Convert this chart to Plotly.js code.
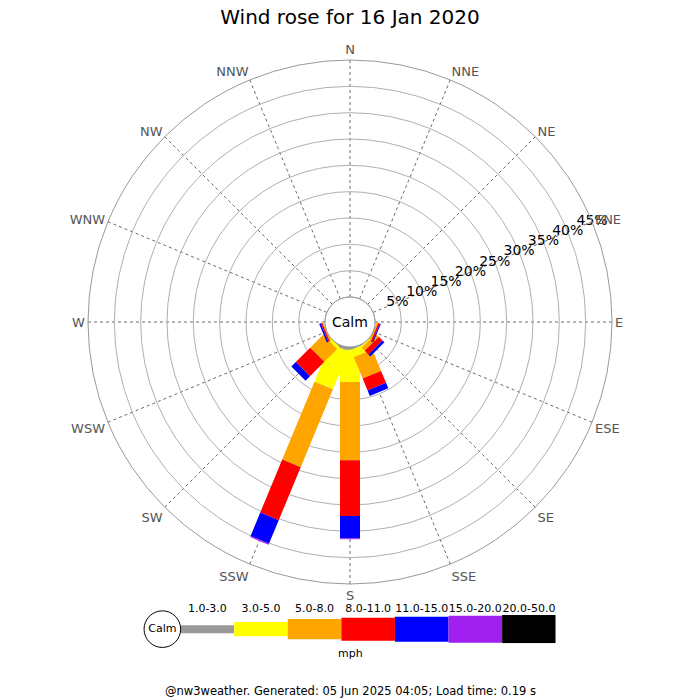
<!DOCTYPE html>
<html><head><meta charset="utf-8">
<script src="https://cdn.plot.ly/plotly-3.0.1.min.js"></script>
<style>html,body{margin:0;padding:0;background:#fff}</style>
</head><body><div id="chart" style="width:700px;height:700px"></div>
<script>
// ---- data ----
const directions = ['N','NNE','NE','ENE','E','ESE','SE','SSE','S','SSW','SW','WSW','W','WNW','NW','NNW'];
const dirAngles  = [0,22.5,45,67.5,90,112.5,135,157.5,180,202.5,225,247.5,270,292.5,315,337.5];
const speedBins  = ['1.0-3.0','3.0-5.0','5.0-8.0','8.0-11.0','11.0-15.0','15.0-20.0','20.0-50.0'];
//                      N  NNE NE ENE E  ESE  SE   SSE   S     SSW   SW    WSW  W  WNW NW NNW
const freq1to3   = [0, 0, 0, 0, 0, 0,   0,   0.2,  0.5,  0.5,  0,    0,   0, 0, 0, 0];
const freq3to5   = [0, 0, 0, 0, 0, 0,   0.3, 1.5,  6.15, 7.8,  0.6,  0,   0, 0, 0, 0];
const freq5to8   = [0, 0, 0, 0, 0, 0.3, 0.8, 4.4,  14.85,16.0, 3.45, 0.2, 0, 0, 0, 0];
const freq8to11  = [0, 0, 0, 0, 0, 0.3, 1.0, 2.45, 10.6, 10.9, 3.85, 0.3, 0, 0, 0, 0];
const freq11to15 = [0, 0, 0, 0, 0, 0.2, 0.5, 1.1,  4.2,  4.8,  1.2,  0.3, 0, 0, 0, 0];
const freq15to20 = [0, 0, 0, 0, 0, 0,   0,   0,    0.2,  0.25, 0,    0,   0, 0, 0, 0];
const freq20to50 = [0, 0, 0, 0, 0, 0,   0,   0,    0,    0,    0,    0,   0, 0, 0, 0];
const radialTicks = [5,10,15,20,25,30,35,40,45];
const radialTickText = ['5%','10%','15%','20%','25%','30%','35%','40%','45%'];

// ---- styles ----
const binColors = ['#999999','#ffff00','#ffa500','#ff0000','#0000ff','#a020f0','#000000'];
const legendHeights = [8,14.3,20.3,23,25,27,28.3];
const HOLE = 25/262, RMAX = 45, HALF_W = 10/262;

const series = [freq1to3,freq3to5,freq5to8,freq8to11,freq11to15,freq15to20,freq20to50];

function corner(d, lat, theta){
  const rho = Math.hypot(d, lat);
  const phi = Math.atan2(lat, d)*180/Math.PI;
  return [(rho-HOLE)/(1-HOLE)*RMAX, theta+phi];
}
const toNorm = v => HOLE + (1-HOLE)*v/RMAX;

const cum = directions.map(()=>0);
const traces = [];
series.forEach((vals, b) => {
  const r = [], th = [];
  vals.forEach((v, i) => {
    if (v > 0) {
      const d0 = toNorm(cum[i]), d1 = toNorm(cum[i]+v);
      [[d0,-HALF_W],[d1,-HALF_W],[d1,HALF_W],[d0,HALF_W]].forEach(([d,l]) => {
        const c = corner(d, l, dirAngles[i]); r.push(c[0]); th.push(c[1]);
      });
      r.push(null); th.push(null);
    }
    cum[i] += v;
  });
  traces.push({type:'scatterpolar', r:r, theta:th, mode:'lines', fill:'toself',
    fillcolor:binColors[b], line:{width:0,color:binColors[b]}, connectgaps:false,
    hoverinfo:'skip', showlegend:false});
});

// hole outline
traces.push({type:'scatterpolar', r:dirAngles.concat([360]).map(()=>0), theta:dirAngles.concat([360]),
  mode:'lines', line:{color:'#999',width:1, shape:'spline'}, hoverinfo:'skip', showlegend:false});

// radial tick labels
traces.push({type:'scatterpolar', r:radialTicks, theta:radialTicks.map(()=>67.5), mode:'text',
  text:radialTickText, textposition:'middle center', textfont:{size:14,color:'#000'},
  cliponaxis:false, hoverinfo:'skip', showlegend:false});

// legend bars
traces.push({type:'bar', xaxis:'x2', yaxis:'y2', x:speedBins.map((_,i)=>i), y:legendHeights,
  base:legendHeights.map(h=>-h/2), width:1, marker:{color:binColors, line:{width:0}},
  hoverinfo:'skip', showlegend:false});
traces.push({type:'scatter', xaxis:'x2', yaxis:'y2', x:[-0.84], y:[0], mode:'markers+text',
  text:['Calm'], textposition:'middle center', textfont:{size:11,color:'#000'},
  marker:{symbol:'circle', size:36.6, color:'#fff', line:{color:'#000',width:1}},
  cliponaxis:false, hoverinfo:'skip', showlegend:false});

const layout = {
  width:700, height:700, margin:{l:0,r:0,t:0,b:0},
  paper_bgcolor:'#fff', plot_bgcolor:'#fff',
  font:{family:'DejaVu Sans', color:'#000'},
  showlegend:false,
  title:{text:'Wind rose for 16 Jan 2020', x:0.5, xanchor:'center', y:1-17/700, yanchor:'middle',
    font:{size:20,color:'#000'}},
  polar:{
    domain:{x:[88/700,612/700], y:[1-584/700,1-60/700]},
    hole:HOLE, bgcolor:'#fff',
    radialaxis:{range:[0,RMAX], tickvals:radialTicks, showticklabels:false, ticks:'',
      showline:false, gridcolor:'#b0b0b0', gridwidth:1, angle:22.5},
    angularaxis:{rotation:90, direction:'clockwise', tickmode:'array', tickvals:dirAngles,
      ticktext:directions, ticks:'', showline:true, linecolor:'#999', linewidth:1,
      gridcolor:'#444', griddash:'dot', gridwidth:0.8, tickfont:{size:13,color:'#555'}}
  },
  xaxis2:{domain:[0.1814,0.7939], range:[-1.5,6.5], anchor:'y2', side:'top',
    tickmode:'array', tickvals:[0,1,2,3,4,5,6], ticktext:speedBins, ticks:'', tickangle:0,
    showgrid:false, zeroline:false, showline:false, tickfont:{size:11,color:'#000'}, fixedrange:true},
  yaxis2:{domain:[1-643.3/700,1-615/700], range:[-14.15,14.15], anchor:'x2', visible:false, fixedrange:true},
  annotations:[
    {text:'Calm', xref:'paper', yref:'paper', x:0.5, y:1-322/700, showarrow:false,
      font:{size:14,color:'#000'}, xanchor:'center', yanchor:'middle'},
    {text:'mph', xref:'paper', yref:'paper', x:350.7/700, y:1-653/700, showarrow:false,
      font:{size:11,color:'#000'}, xanchor:'center', yanchor:'middle'},
    {text:'@nw3weather. Generated: 05 Jun 2025 04:05; Load time: 0.19 s', xref:'paper', yref:'paper',
      x:0.5, y:1-691/700, showarrow:false, font:{size:11.5,color:'#000'}, xanchor:'center', yanchor:'middle'}
  ]
};
Plotly.newPlot('chart', traces, layout, {staticPlot:true, displayModeBar:false});
</script></body></html>
